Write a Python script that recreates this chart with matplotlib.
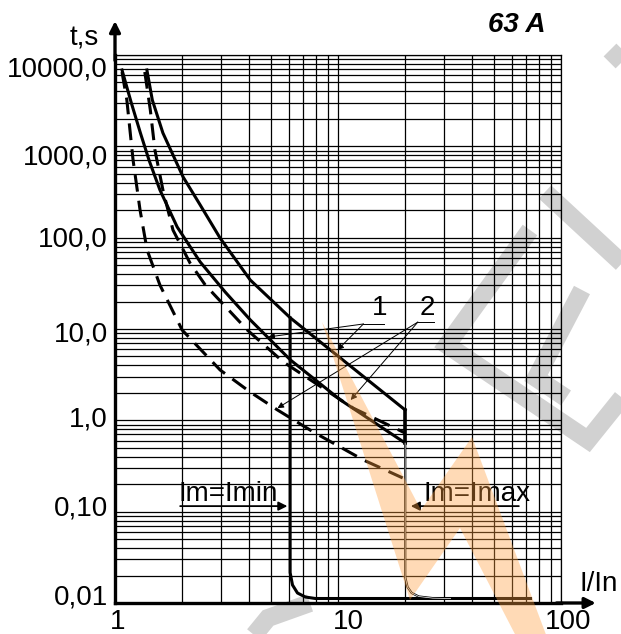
import matplotlib
matplotlib.use("Agg")
import matplotlib.pyplot as plt
import matplotlib.transforms as mtransforms
from matplotlib.lines import Line2D
from matplotlib.patches import Polygon
from matplotlib.ticker import LogLocator, NullFormatter

plt.rcParams["font.family"] = ["Liberation Sans", "DejaVu Sans"]

# thermal release curves (I/In, t in s)
upper_x = [1.39, 1.47, 1.64, 2.02, 2.41, 2.96, 4.04, 6.12, 20.0]
upper_y = [6855, 3215, 1400, 462, 228, 99, 34.4, 13.2, 1.30]

lower_x = [1.075, 1.18, 1.30, 1.42, 1.59, 1.90, 2.41, 3.12, 4.04, 6.12, 10.26, 20.0]
lower_y = [6855, 3061, 1400, 709, 333, 131, 54.2, 25.4, 12.6, 4.58, 1.67, 0.565]

dash_r_x = [1.36, 1.44, 1.51, 1.64, 1.82, 2.17, 2.54, 3.92, 5.69, 11.7, 20.0]
dash_r_y = [6516, 2500, 912, 333, 121, 52.8, 30.3, 9.75, 4.35, 1.36, 0.726]

dash_l_x = [1.075, 1.13, 1.205, 1.295, 1.393, 1.59, 2.0, 2.96, 4.04, 5.35, 7.76, 13.0, 19.5]
dash_l_y = [6516, 3215, 709, 201, 73.3, 30.3, 9.75, 3.56, 2.04, 1.30, 0.744, 0.368, 0.234]

# magnetic release
imin_x = [6.1, 6.1, 6.25, 6.58, 7.14, 7.92, 73.0]
imin_y = [13.2, 0.0215, 0.01575, 0.01287, 0.01163, 0.0112, 0.0112]

imax_x = [20.0, 20.0, 20.5, 21.4, 23.0, 26.6, 32.0]
imax_y = [0.565, 0.0193, 0.01497, 0.01287, 0.01178, 0.0113, 0.0112]

y_ticks = [0.01, 0.1, 1, 10, 100, 1000, 10000]
y_labels = ["0,01", "0,10", "1,0", "10,0", "100,0", "1000,0", "10000,0"]
x_ticks = [1, 10, 100]
x_labels = ["1", "10", "100"]

FS = 20

fig = plt.figure(figsize=(6.21, 6.34), dpi=100)
ax = fig.add_axes([0.18519, 0.04890, 0.71820, 0.86435])
ax.set_xscale("log")
ax.set_yscale("log")
ax.set_xlim(1, 100)
ax.set_ylim(0.01, 10000)

ax.xaxis.set_minor_locator(LogLocator(base=10, subs=range(2, 10), numticks=20))
ax.yaxis.set_minor_locator(LogLocator(base=10, subs=range(2, 10), numticks=20))
ax.xaxis.set_minor_formatter(NullFormatter())
ax.yaxis.set_minor_formatter(NullFormatter())
ax.grid(which="both", color="black", lw=0.9)
ax.set_axisbelow(True)

ax.set_yticks(y_ticks)
ax.set_yticklabels(y_labels)
ax.set_xticks(x_ticks)
ax.set_xticklabels(x_labels)
ax.tick_params(which="both", length=0, labelsize=FS)
ax.tick_params(axis="y", pad=5)
ax.tick_params(axis="x", pad=4)

# nudge labels like the printed original
y_off = [8, 6, 4, -3, 1, -8, -12]
for lab, dy in zip(ax.get_yticklabels(), y_off):
    lab.set_transform(lab.get_transform() + mtransforms.ScaledTranslation(0, dy / 100, fig.dpi_scale_trans))
x_off = [3, 10, 7]
for lab, dx in zip(ax.get_xticklabels(), x_off):
    lab.set_transform(lab.get_transform() + mtransforms.ScaledTranslation(dx / 100, 0, fig.dpi_scale_trans))

for side in ["top", "right"]:
    ax.spines[side].set_linewidth(0.9)
for side in ["left", "bottom"]:
    ax.spines[side].set_linewidth(2.4)

# curves
ax.plot(upper_x, upper_y, color="black", lw=2.2)
ax.plot(lower_x, lower_y, color="black", lw=2.2)
ax.plot([upper_x[-1], lower_x[-1]], [upper_y[-1], lower_y[-1]], color="black", lw=2.6)
ax.plot(dash_r_x, dash_r_y, color="black", lw=2.2, dashes=(5.5, 3))
ax.plot(dash_l_x, dash_l_y, color="black", lw=2.2, dashes=(5.5, 3))
ax.plot(imin_x, imin_y, color="black", lw=2.2)
ax.plot(imax_x, imax_y, color="black", lw=1.6)
ax.plot(imax_x, imax_y, color="white", lw=0.5)

# leader lines for 1 and 2
thin = dict(arrowstyle="-|>", lw=0.7, color="black", mutation_scale=9, shrinkA=0, shrinkB=0)
ax.annotate("", xy=(4.87, 8.18), xytext=(13.0, 11.35), arrowprops=thin)
ax.annotate("", xy=(9.95, 5.89), xytext=(13.0, 11.35), arrowprops=thin)
ax.annotate("", xy=(5.35, 1.36), xytext=(22.8, 11.9), arrowprops=thin)
ax.annotate("", xy=(11.4, 1.67), xytext=(22.8, 11.9), arrowprops=thin)
ax.plot([13.0, 16.0], [11.35, 11.35], color="black", lw=0.7)
ax.plot([22.8, 26.9], [11.9, 11.9], color="black", lw=0.7)
ax.text(15.4, 12.3, "1", fontsize=FS, ha="center", va="bottom")
ax.text(25.2, 12.3, "2", fontsize=FS, ha="center", va="bottom")

# Im labels
thick = dict(arrowstyle="-|>", lw=1.3, color="black", mutation_scale=13, shrinkA=0, shrinkB=0)
ax.annotate("", xy=(5.93, 0.115), xytext=(1.96, 0.115), arrowprops=thick)
ax.annotate("", xy=(21.2, 0.115), xytext=(64.7, 0.115), arrowprops=thick)
ax.text(1.93, 0.132, "Im=Imin", fontsize=FS, ha="left", va="baseline")
ax.text(24.3, 0.132, "Im=Imax", fontsize=FS, ha="left", va="baseline")

# axis arrows and names
ax.annotate("", xy=(0, 1.062), xytext=(0, 0.99), xycoords="axes fraction",
            arrowprops=dict(arrowstyle="-|>", lw=2.4, color="black", mutation_scale=16, shrinkA=0, shrinkB=0))
ax.annotate("", xy=(1.078, 0), xytext=(0.99, 0), xycoords="axes fraction",
            arrowprops=dict(arrowstyle="-|>", lw=2.4, color="black", mutation_scale=16, shrinkA=0, shrinkB=0))
ax.text(-0.07, 1.03, "t,s", transform=ax.transAxes, fontsize=FS, ha="center", va="center")
ax.text(1.085, 0.035, "I/In", transform=ax.transAxes, fontsize=FS, ha="center", va="center")
fig.text(0.8325, 0.9606, "63 A", fontsize=20, fontweight="bold", fontstyle="italic",
         ha="center", va="center")

# watermark, drawn in figure pixels
px = mtransforms.Affine2D().scale(1 / 621, -1 / 634).translate(0, 1) + fig.transFigure
gray_paths = [
    [(610, 50), (628, 68)],
    [(545, 192), (625, 266)],
    [(530, 230), (447, 345), (588, 440), (625, 394)],
    [(582, 290), (536, 378), (566, 398)],
    [(250, 640), (268, 618), (310, 603)],
]
for pts in gray_paths:
    xs, ys = zip(*pts)
    fig.add_artist(Line2D(xs, ys, transform=px, color="black", alpha=0.18, lw=13,
                          solid_joinstyle="miter", solid_capstyle="butt"))
bolt = [(322, 322), (421, 510), (472, 437), (548, 640), (518, 640), (460, 528), (410, 600)]
fig.add_artist(Polygon(bolt, closed=True, transform=px, facecolor="#ffa040", alpha=0.38,
                       edgecolor="none", zorder=5))

plt.savefig("out.png", dpi=100)
